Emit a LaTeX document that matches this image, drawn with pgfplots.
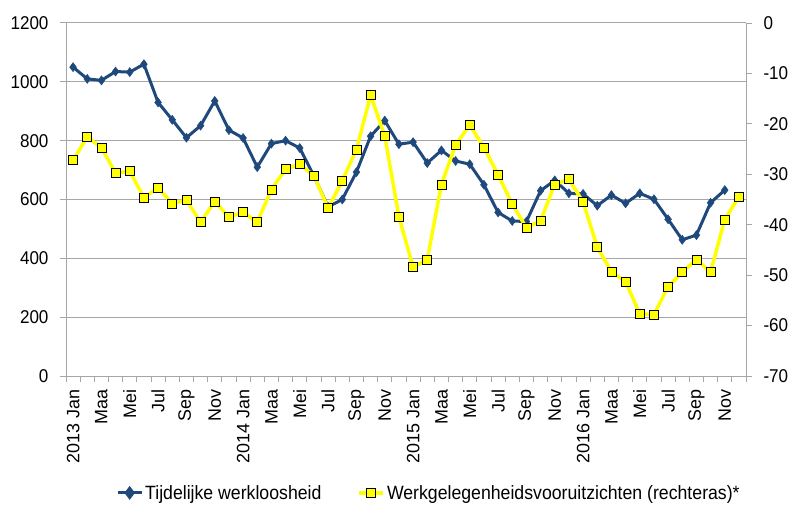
\documentclass[border=0pt]{standalone}
\usepackage{pgfplots}
\pgfplotsset{compat=1.18}
\usepackage{pgfplotstable}
\usepackage{fontspec}
\setmainfont{Liberation Sans}[FakeStretch=0.92]
\newfontfamily\xlab{Liberation Sans}
\definecolor{navy}{HTML}{1F497D}
\definecolor{ylw}{HTML}{FFFF00}
\definecolor{gridc}{HTML}{A6A6A6}

\pgfplotstableread{
x y
0 1050
1 1010
2 1005
3 1035
4 1033
5 1060
6 930
7 871
8 810
9 851
10 935
11 836
12 809
13 710
14 790
15 800
16 775
17 680
18 575
19 600
20 693
21 815
22 868
23 788
24 795
25 724
26 767
27 731
28 720
29 650
30 556
31 527
32 525
33 630
34 665
35 621
36 619
37 579
38 615
39 587
40 621
41 601
42 533
43 463
44 479
45 589
46 632
}\tijdelijk

\pgfplotstableread{
x y
0 -27.2
1 -22.6
2 -24.7
3 -29.8
4 -29.4
5 -34.6
6 -32.7
7 -35.8
8 -35.1
9 -39.5
10 -35.4
11 -38.5
12 -37.5
13 -39.5
14 -33.0
15 -29.0
16 -28.0
17 -30.3
18 -36.7
19 -31.3
20 -25.1
21 -14.3
22 -22.4
23 -38.4
24 -48.4
25 -46.9
26 -32.0
27 -24.2
28 -20.2
29 -24.7
30 -30.1
31 -35.9
32 -40.6
33 -39.2
34 -32.0
35 -31.0
36 -35.5
37 -44.4
38 -49.3
39 -51.3
40 -57.7
41 -57.8
42 -52.3
43 -49.4
44 -46.9
45 -49.4
46 -39.0
47 -34.4
}\vooruit

\begin{document}
\begin{tikzpicture}
\pgfplotsset{
  common/.style={
    width=680bp, height=353bp, scale only axis,
    xmin=-0.5, xmax=47.5,
    clip=false,
    tick align=outside,
    major tick length=6bp,
    axis line style={gridc, line width=1bp},
    tick style={gridc, line width=1bp},
    tick label style={font=\fontsize{18.6}{22}\selectfont},
    /pgf/number format/assume math mode=true,
    /pgf/number format/1000 sep={},
  }
}
\begin{axis}[common,
  ymin=0, ymax=1200,
  ytick={0,200,...,1200},
  axis y line*=left,
  axis x line*=bottom,
  ymajorgrids,
  major grid style={gridc, line width=1bp},
  xtick={0,2,...,46},
  xticklabels={2013 Jan,Maa,Mei,Jul,Sep,Nov,2014 Jan,Maa,Mei,Jul,Sep,Nov,2015 Jan,Maa,Mei,Jul,Sep,Nov,2016 Jan,Maa,Mei,Jul,Sep,Nov},
  xtick style={draw=none},
  xticklabel style={rotate=90, anchor=east, font=\xlab\fontsize{18}{21}\selectfont},
  xticklabel shift=4bp,
  yticklabel style={xshift=-8bp},
]
\addplot[navy, line width=3bp, mark=diamond*, mark size=4.5bp, mark options={fill=navy, draw=navy, line width=0.5bp}] table[x=x,y=y] {\tijdelijk};
\coordinate (bl) at (rel axis cs:0,0);
\coordinate (tr) at (rel axis cs:1,1);
\end{axis}
\begin{axis}[common,
  ymin=-70, ymax=0,
  ytick={-70,-60,...,0},
  axis y line*=right,
  axis x line*=bottom,
  xtick={-0.5,0.5,...,47.5},
  xticklabels={},
  major tick length=6bp,
  yticklabel style={xshift=8bp},
  legend style={draw=none, fill=none, legend columns=2, inner xsep=0pt, inner ysep=0pt,
    at={(0.0735,-0.331)}, anchor=west,
    font=\fontsize{19.3}{23}\selectfont,
    nodes={inner xsep=2bp},
    /tikz/every even column/.append style={column sep=34bp}},
  legend image code/.code={\draw[mark repeat=2,mark phase=2] plot coordinates {(0bp,0bp) (12bp,0bp) (24bp,0bp)};},
]
\addlegendimage{navy, line width=3bp, mark=diamond*, mark size=4.5bp, mark options={fill=navy, draw=navy}}
\addlegendentry{Tijdelijke werkloosheid}
\addplot[ylw, line width=3.5bp, mark=square*, mark size=4.5bp, mark options={fill=ylw, draw=black, line width=0.7bp}] table[x=x,y=y] {\vooruit};
\addlegendentry{Werkgelegenheidsvooruitzichten (rechteras)*}
\end{axis}
\pgfresetboundingbox
\path[use as bounding box] ([shift={(-66bp,-129bp)}]bl) rectangle ([shift={(46bp,23bp)}]tr);
\end{tikzpicture}
\end{document}
